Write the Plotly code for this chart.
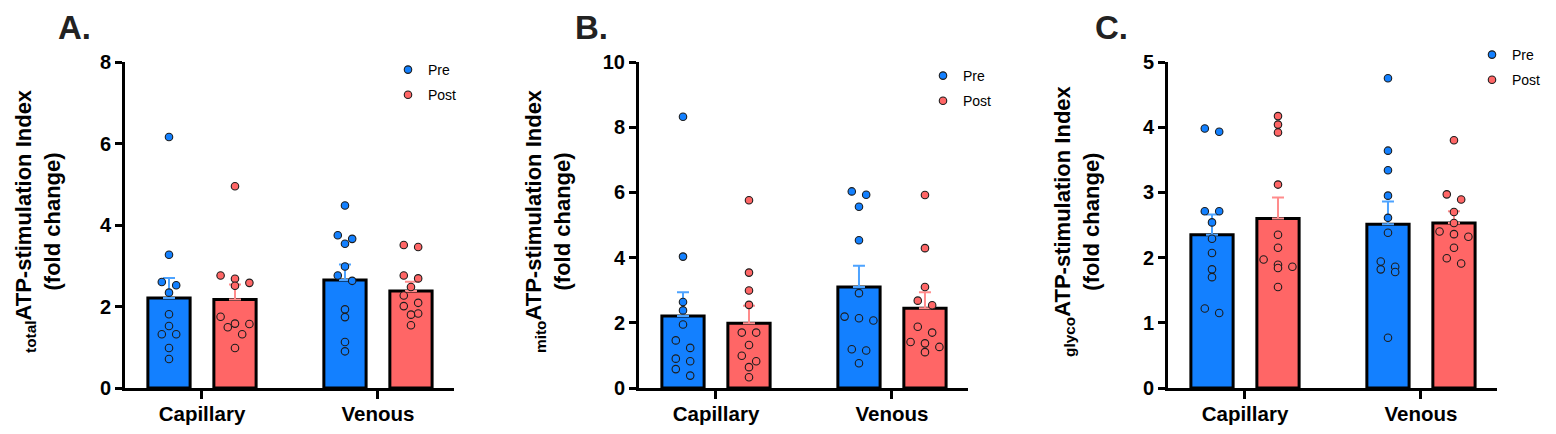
import plotly.graph_objects as go

# ---------------- data ----------------
categories = ["Capillary", "Venous"]
groups = ["Pre", "Post"]

# Panel A: total ATP-stimulation index
a_pre_capillary = [6.16, 3.27, 2.60, 2.52, 2.34, 1.81, 1.52, 1.32, 1.32, 0.98, 0.71]
a_pre_venous = [4.48, 3.75, 3.66, 3.54, 2.98, 2.76, 2.63, 1.93, 1.74, 1.13, 0.90]
a_post_capillary = [4.95, 2.76, 2.68, 2.58, 2.51, 1.75, 1.58, 1.57, 1.49, 1.32, 0.98]
a_post_venous = [3.51, 3.46, 2.76, 2.69, 2.48, 2.27, 2.09, 2.01, 1.83, 1.80, 1.54]
a_pre_mean = [2.21, 2.65]
a_pre_sem = [0.49, 0.38]
a_post_mean = [2.17, 2.38]
a_post_sem = [0.37, 0.23]

# Panel B: mito ATP-stimulation index
b_pre_capillary = [8.32, 4.03, 2.64, 2.38, 1.95, 1.46, 1.23, 0.90, 0.82, 0.58, 0.38]
b_pre_venous = [6.03, 5.93, 5.56, 4.53, 2.91, 2.19, 2.14, 2.07, 1.19, 1.15, 0.76]
b_post_capillary = [5.76, 3.54, 2.99, 2.55, 1.70, 1.70, 1.32, 0.99, 0.82, 0.64, 0.33]
b_post_venous = [5.92, 4.29, 3.10, 2.68, 2.54, 1.88, 1.70, 1.41, 1.37, 1.26, 1.10]
b_pre_mean = [2.21, 3.10]
b_pre_sem = [0.73, 0.65]
b_post_mean = [1.99, 2.45]
b_post_sem = [0.53, 0.49]

# Panel C: glyco ATP-stimulation index
c_pre_capillary = [3.98, 3.93, 2.71, 2.71, 2.54, 2.29, 2.07, 1.82, 1.70, 1.22, 1.15]
c_pre_venous = [4.75, 3.64, 3.34, 2.95, 2.61, 2.38, 1.94, 1.86, 1.82, 1.78, 0.77]
c_post_capillary = [4.17, 4.04, 3.92, 3.12, 2.35, 2.15, 1.97, 1.89, 1.86, 1.84, 1.55]
c_post_venous = [3.80, 2.97, 2.89, 2.70, 2.53, 2.40, 2.36, 2.32, 2.15, 1.99, 1.91]
c_pre_mean = [2.35, 2.51]
c_pre_sem = [0.31, 0.35]
c_post_mean = [2.60, 2.53]
c_post_sem = [0.32, 0.18]

y_max = [8, 10, 5]
y_dtick = [2, 2, 1]
subscripts = ["total", "mito", "glyco"]
panel_letters = ["A.", "B.", "C."]

# ---------------- styling / layout constants ----------------
W, H = 1556, 434
FONT = "Liberation Sans, Arial, Helvetica, sans-serif"
PRE_FILL, POST_FILL = "#1380FF", "#FF6666"
PRE_ERR, POST_ERR = "#4DA3FF", "#FF8C8C"
MARKER_SIZE = 7.5
PLOT_TOP, PLOT_BOTTOM = 62, 388          # px from top
PANEL_LEFT = [125, 639, 1168]             # px of y-axis
PLOT_W = 329
X_RANGE = [-0.4375, 1.432]
BAR_OFFSET = 0.1875
BAR_WIDTH = 0.24
TITLE_X = [38, 548, 1077]
LETTER_X = [56, 573, 1093]
LEGEND_X = [388, 923, 1472]
LEGEND_Y = [54, 60, 39]

plot_h = PLOT_BOTTOM - PLOT_TOP
px_per_xunit = PLOT_W / (X_RANGE[1] - X_RANGE[0])


def swarm(values, px_per_unit, thresh_px=7.7, step_px=14.4):
    """Simple row-based beeswarm: close points share a row, spread symmetrically."""
    n = len(values)
    order = sorted(range(n), key=lambda i: -values[i])
    rows = []
    for i in order:
        if rows and (values[rows[-1][0]] - values[i]) * px_per_unit < thresh_px:
            rows[-1].append(i)
        else:
            rows.append([i])
    offs = [0.0] * n
    for row in rows:
        k = len(row)
        for j, idx in enumerate(row):
            offs[idx] = (j - (k - 1) / 2) * step_px / px_per_xunit
    return offs


panels = [
    dict(pre=[a_pre_capillary, a_pre_venous], post=[a_post_capillary, a_post_venous],
         pre_mean=a_pre_mean, pre_sem=a_pre_sem, post_mean=a_post_mean, post_sem=a_post_sem),
    dict(pre=[b_pre_capillary, b_pre_venous], post=[b_post_capillary, b_post_venous],
         pre_mean=b_pre_mean, pre_sem=b_pre_sem, post_mean=b_post_mean, post_sem=b_post_sem),
    dict(pre=[c_pre_capillary, c_pre_venous], post=[c_post_capillary, c_post_venous],
         pre_mean=c_pre_mean, pre_sem=c_pre_sem, post_mean=c_post_mean, post_sem=c_post_sem),
]

fig = go.Figure()
annotations = []
layout_extra = {}

for p, pan in enumerate(panels):
    sfx = "" if p == 0 else str(p + 1)
    xa, ya = "x" + sfx, "y" + sfx
    leg = "legend" + sfx
    px_per_unit = plot_h / y_max[p]

    for g, (name, fill, err, side) in enumerate([
        ("Pre", PRE_FILL, PRE_ERR, -1), ("Post", POST_FILL, POST_ERR, 1)]):
        key = "pre" if g == 0 else "post"
        means = pan[key + "_mean"]
        sems = pan[key + "_sem"]
        xs_bar = [ci + side * BAR_OFFSET for ci in range(len(categories))]
        fig.add_trace(go.Bar(
            x=xs_bar, y=means, width=BAR_WIDTH, xaxis=xa, yaxis=ya,
            marker=dict(color=fill, line=dict(color="black", width=3)),
            error_y=dict(type="data", array=sems, arrayminus=[0] * len(sems),
                         symmetric=False, color=err, thickness=2, width=6),
            showlegend=False, hoverinfo="skip"))

        px, py = [], []
        for ci, vals in enumerate(pan[key]):
            offs = swarm(vals, px_per_unit)
            px += [ci + side * BAR_OFFSET + o for o in offs]
            py += vals
        fig.add_trace(go.Scatter(
            x=px, y=py, mode="markers", name=name, xaxis=xa, yaxis=ya,
            legend=leg, legendgroup=name + sfx,
            marker=dict(color=fill, size=MARKER_SIZE,
                        line=dict(color="#1c1c1c", width=1.1))))

    x0 = PANEL_LEFT[p] / W
    x1 = (PANEL_LEFT[p] + PLOT_W) / W
    y0 = (H - PLOT_BOTTOM) / H
    y1 = (H - PLOT_TOP) / H
    layout_extra["xaxis" + sfx] = dict(
        domain=[x0, x1], range=X_RANGE, anchor=ya, automargin=False,
        tickmode="array", tickvals=list(range(len(categories))), ticktext=categories,
        showline=True, linewidth=3, linecolor="black",
        ticks="outside", ticklen=8, tickwidth=3, tickcolor="black",
        ticklabelstandoff=-3,
        tickfont=dict(family=FONT, size=20.5, color="black", weight="bold"),
        showgrid=False, zeroline=False, fixedrange=True)
    layout_extra["yaxis" + sfx] = dict(
        domain=[y0, y1], range=[0, y_max[p]], anchor=xa, automargin=False,
        tickmode="linear", tick0=0, dtick=y_dtick[p],
        showline=True, linewidth=3, linecolor="black",
        ticks="outside", ticklen=7, tickwidth=3, tickcolor="black",
        tickfont=dict(family=FONT, size=20, color="black", weight="bold"),
        showgrid=False, zeroline=False, fixedrange=True)
    layout_extra[leg] = dict(
        x=LEGEND_X[p] / W, y=1 - LEGEND_Y[p] / H, xanchor="left", yanchor="top",
        bgcolor="rgba(0,0,0,0)", borderwidth=0,
        font=dict(family=FONT, size=14, color="black"),
        tracegroupgap=4, traceorder="grouped")

    annotations.append(dict(
        text="<sub>" + subscripts[p] + "</sub>ATP-stimulation Index<br>(fold change)",
        x=TITLE_X[p] / W, y=1 - ((PLOT_TOP + PLOT_BOTTOM) / 2 - 4) / H,
        xref="paper", yref="paper", xanchor="center", yanchor="middle",
        textangle=-90, showarrow=False,
        font=dict(family=FONT, size=22, color="black", weight="bold")))
    annotations.append(dict(
        text=panel_letters[p], x=LETTER_X[p] / W, y=1 - 27 / H,
        xref="paper", yref="paper", xanchor="left", yanchor="middle",
        showarrow=False,
        font=dict(family=FONT, size=33, color="#222222", weight="bold")))

fig.update_layout(
    template="none",
    width=W, height=H, margin=dict(l=0, r=0, t=0, b=0, autoexpand=False),
    paper_bgcolor="white", plot_bgcolor="white",
    barmode="overlay", annotations=annotations, **layout_extra)

fig.write_html("out.html", config={"displayModeBar": False},
               post_script="document.body.style.margin='0';"
                           "document.body.style.overflow='hidden';")
